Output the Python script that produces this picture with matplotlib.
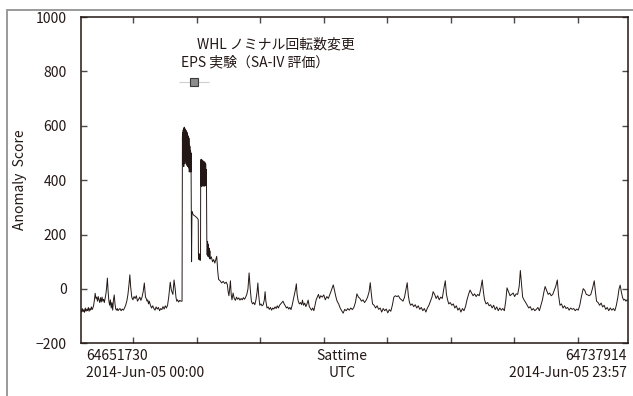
import matplotlib.pyplot as plt
from matplotlib.patches import Rectangle
import numpy as np

plt.rcParams['font.family'] = ['Noto Sans CJK JP', 'DejaVu Sans']

# sattime range of the plot
t_start = 64651730
t_end = 64737914

# minutes since start, anomaly score
minutes = [
    0, 2, 4, 6, 8, 10, 12, 14, 16, 18, 20, 22, 24, 26, 28, 30, 32, 34, 36, 38,
    40, 42, 44, 46, 48, 50, 52, 54, 56, 58, 60, 62, 64, 66, 68, 70, 72, 74, 76, 78,
    80, 82, 84, 86, 88, 90, 92, 94, 96, 98, 100, 103, 106, 109, 112, 115, 118, 121, 124, 127,
    129, 131, 134, 137, 140, 143, 146, 149, 152, 155, 158, 161, 164, 167, 170, 172, 174, 176, 178, 180,
    183, 186, 189, 192, 195, 198, 201, 204, 207, 210, 213, 216, 219, 222, 225, 228, 231, 235, 238, 242,
    245, 248, 250, 252, 254, 257, 260, 263, 266,
    267, 267.5, 268, 268.5, 269, 269.5, 270, 270.5, 271, 271.5, 272, 272.5, 273, 273.5, 274, 274.5,
    275, 275.5, 276, 276.5, 277, 277.5, 278, 278.5, 279, 279.5, 280, 280.5, 281, 281.5, 282, 282.5,
    283, 283.5, 284, 284.5, 285, 285.5, 286, 286.5, 287, 287.5, 288, 288.5, 289, 289.5,
    291, 292, 293, 296, 300, 305, 308.5, 309, 309.5, 310, 310.5, 311, 311.5, 312, 312.5, 313, 313.5, 314, 314.5,
    315, 315.5, 316, 316.5, 317, 317.5, 318, 318.5, 319, 319.5, 320, 320.5, 321, 321.5, 322, 322.5,
    323, 323.5, 324, 324.5, 325, 325.5, 326, 326.5, 327, 327.5, 328, 328.5, 329, 329.5, 330,
    331, 332, 333, 334, 335, 336, 337, 338, 339, 340, 343, 346, 349, 352, 355, 357, 360, 362,
    366, 370, 374, 378, 382, 385, 387, 389, 391, 393, 395, 397, 400,
    403, 406, 409, 412, 415, 418, 421, 424, 427, 430, 433, 436, 439, 442, 445, 448, 451, 454, 457, 460,
    463, 465, 467, 470, 473, 476, 479, 482, 484, 486, 489, 492, 495, 498, 501, 504, 507, 510, 513, 516,
    519, 522, 525, 528, 531, 534, 537, 540, 543, 546, 549, 552, 555, 558, 561, 564, 566, 568, 571, 574,
    577, 580, 582, 585, 588, 591, 594, 597, 600, 603, 606, 609, 612, 615, 618, 621, 624, 627,
    630, 634, 638, 642, 646, 650, 654, 658, 663, 667, 670, 673, 677, 681, 685, 689, 693, 697, 701, 705,
    709, 713, 717, 721, 725, 729, 733, 737, 741, 745, 749, 753, 757, 760, 763, 766, 770, 774, 778, 782,
    786, 790, 794, 798, 802, 806, 810, 814, 818, 822, 826, 830, 834, 838, 842, 846, 850, 854, 857, 860,
    863, 866, 870, 874, 878, 882, 886, 890, 894, 898, 902, 906, 910, 914, 918, 922, 925, 929, 933, 937,
    941, 945, 949, 953, 957, 960, 963, 966, 970, 974, 978, 982, 986, 990, 994, 998, 1002, 1006, 1010, 1014,
    1018, 1022, 1026, 1030, 1034, 1038, 1042, 1046, 1050, 1054, 1057, 1060, 1064, 1068, 1072, 1076, 1080, 1084, 1088, 1092,
    1096, 1100, 1104, 1108, 1112, 1116, 1119, 1123, 1127, 1131, 1135, 1139, 1143, 1147, 1151, 1154, 1157, 1160, 1164, 1168,
    1172, 1176, 1180, 1184, 1188, 1192, 1196, 1200, 1204, 1208, 1212, 1216, 1219, 1223, 1227, 1231, 1235, 1239, 1243, 1247,
    1251, 1254, 1258, 1262, 1266, 1270, 1274, 1278, 1282, 1286, 1290, 1294, 1298, 1302, 1306, 1310, 1314, 1319, 1323, 1327,
    1331, 1335, 1339, 1343, 1348, 1351, 1354, 1358, 1362, 1366, 1370, 1374, 1378, 1382, 1386, 1390, 1394, 1398, 1402, 1406,
    1410, 1413, 1416, 1419, 1422, 1425, 1428, 1431, 1434, 1436,
]
score = [
    -78, -85, -72, -84, -76, -86, -70, -82, -74, -80, -68, -82, -72, -78, -66, -76, -70, -60, -40, -16,
    -35, -30, -45, -28, -40, -50, -32, -48, -30, -45, -38, -50, -35, -20, 5, 40, -10, -45, -60, -40,
    -70, -50, -78, -40, -22, -55, -74, -78, -72, -80, -76, -72, -80, -74, -78, -70, -60, -45, -20, 20,
    52, 10, -30, -40, -28, -35, -25, -45, -38, -30, -42, -30, -10, 22, -30, -35, -45, -40, -55, -45,
    -60, -70, -62, -72, -78, -66, -74, -68, -80, -72, -76, -65, -74, -62, -70, -60, -30, 25, -5, -20,
    33, 0, -30, -45, -40, -48, -42, -45, -45,
    560, 470, 575, 460, 585, 455, 590, 450, 592, 465, 595, 470, 590, 460, 588, 475,
    585, 480, 580, 470, 582, 465, 578, 455, 575, 460, 570, 450, 565, 455, 560, 460,
    558, 445, 555, 520, 430, 515, 440, 525, 435, 510, 440, 505, 430, 500,
    100, 285, 280, 272, 268, 262, 255, 126, 112, 130, 108, 125, 110, 128, 115, 122, 105, 120, 118,
    470, 380, 477, 390, 470, 377, 475, 385, 468, 380, 472, 392, 465, 378, 470, 385,
    460, 380, 468, 390, 455, 378, 465, 385, 450, 380, 460, 390, 440, 385, 420,
    180, 125, 175, 120, 165, 118, 150, 112, 140, 110, 118, 100, 108, 95, 110, 120, 60, 35,
    30, 22, 28, 20, 25, 15, -10, -25, 0, 30, -20, -40, -15,
    -35, -42, -30, -38, -33, -41, -35, -40, -32, -38, -30, -20, 0, 59, 0, -45, -55, -50, -58, -40,
    -10, 22, -20, -60, -55, -62, -58, -40, -10, -45, -70, -66, -75, -68, -78, -70, -74, -66, -72, -62,
    -70, -60, -55, -50, -45, -55, -62, -70, -66, -74, -68, -76, -60, -40, -20, 0, 19, -20, -45, -55,
    -50, -58, -41, -60, -52, -65, -55, -41, -65, -72, -78, -70, -80, -60, -40, -30, -20, -35,
    -25, -30, -22, -40, -28, -35, -20, -5, 15, -10, -30, -45, -55, -70, -80, -89, -75, -80, -72, -78,
    -70, -76, -68, -50, -18, -30, -35, -45, -40, -50, -42, -30, -10, 23, -20, -55, -60, -70, -62, -75,
    -70, -85, -72, -80, -74, -88, -76, -82, -60, -30, -25, -28, -25, -35, -40, -45, -30, 0, 23, -25,
    -50, -60, -55, -65, -58, -70, -62, -75, -68, -80, -72, -85, -70, -60, -45, -30, -10, -20, -35, -25,
    -40, -30, -35, 0, 30, -20, -40, -55, -50, -60, -55, -70, -62, -78, -70, -85, -72, -80, -65, -40,
    -20, -4, -15, -25, -18, -28, -20, -25, 0, 33, -10, -40, -55, -50, -62, -58, -70, -60, -76, -66,
    -80, -70, -78, -72, -80, -40, 4, -10, -25, -20, -15, -28, -18, -20, 10, 68, 20, -30, -41, -50,
    -60, -70, -65, -78, -72, -80, -75, -68, -80, -60, -40, -10, 9, -5, -20, -15, -25, -20, -5, 10,
    33, -20, -60, -55, -70, -62, -72, -68, -78, -70, -75, -72, -80, -74, -78, -60, -30, 1, -5, -20,
    -22, -25, -20, 0, 30, -10, -45, -50, -60, -52, -66, -60, -75, -68, -80, -70, -78, -72, -80, -60,
    -30, 0, 14, -10, -30, -41, -38, -45, -40, -42,
]

# event marker (sattime, score, half width)
event_t = 64669580
event_score = 760
event_halfwidth = 2360

sattime = t_start + np.array(minutes) * 60

ink = '#231815'

fig = plt.figure(figsize=(6.33, 3.96), dpi=100)
ax = fig.add_axes([0.1275, 0.133, 0.8645, 0.824])

ax.plot(sattime, score, color=ink, lw=0.7)
ax.errorbar([event_t], [event_score], xerr=[event_halfwidth], fmt='s',
            color='#8c8c8c', mec='#3a3a3a', mew=0.8, ms=6,
            ecolor='#cfcfcf', elinewidth=0.8, capsize=0)

ax.set_xlim(t_start, t_end)
ax.set_ylim(-200, 1000)
ax.set_xticks(np.arange(64660000, 64730001, 10000))
ax.set_xticklabels([])
ax.set_yticks(np.arange(-200, 1001, 200))
ax.tick_params(direction='in', top=True, right=True, length=4, width=1,
               color='#4a4a4a', labelsize=10, labelcolor=ink, pad=10)
for s in ax.spines.values():
    s.set_color(ink)
    s.set_linewidth(1.1)

ax.text(0.2126, 0.917, 'WHL ノミナル回転数変更', transform=ax.transAxes,
        fontsize=10, color=ink, va='center', ha='left')
ax.text(0.1834, 0.862, 'EPS 実験（SA-IV 評価）', transform=ax.transAxes,
        fontsize=10, color=ink, va='center', ha='left')

fig.text(86 / 633, 1 - 349 / 396, '64651730\n2014-Jun-05 00:00', ha='left', va='top',
         fontsize=10, color=ink, linespacing=1.25)
fig.text(342 / 633, 1 - 349 / 396, 'Sattime\nUTC', ha='center', va='top',
         fontsize=10, color=ink, linespacing=1.25)
fig.text(627 / 633, 1 - 349 / 396, '64737914\n2014-Jun-05 23:57', ha='right', va='top',
         fontsize=10, color=ink, linespacing=1.25)
fig.text(20 / 633, 1 - 180 / 396, 'Anomaly  Score', rotation=90, ha='center', va='center',
         fontsize=10, color=ink)

# grey outer frame, cut off at the right and bottom edges
frame_top = 1 - 10 / 396
fig.patches.append(Rectangle((7 / 633, -0.2), 1.2, frame_top + 0.2, transform=fig.transFigure,
                             fill=False, ec='#9a9a9a', lw=1.4))

fig.savefig('out.png', dpi=100)
